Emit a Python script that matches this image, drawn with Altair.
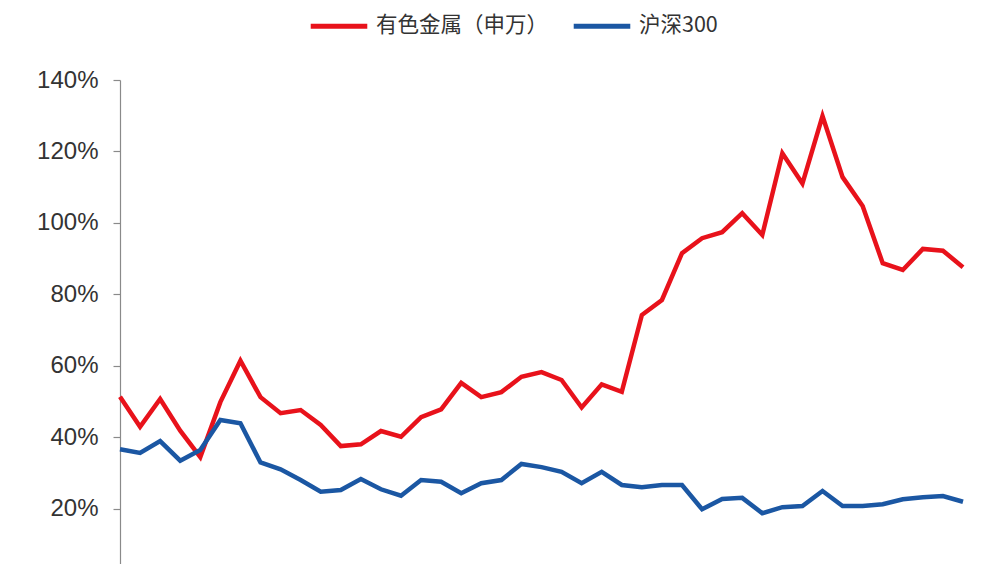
import altair as alt
import pandas as pd

series_names = ["有色金属（申万）", "沪深300"]
colors = ["#e8121b", "#1b57a3"]

metals = [51.3, 42.9, 50.7, 41.8, 34.4, 49.8, 61.4, 51.2, 46.7, 47.6, 43.4,
          37.5, 38.0, 41.7, 40.1, 45.6, 47.8, 55.2, 51.2, 52.6, 56.9, 58.2,
          56.0, 48.3, 54.8, 52.7, 74.2, 78.4, 91.5, 95.7, 97.4, 102.7, 96.6,
          119.5, 111.0, 129.9, 112.8, 104.7, 88.7, 86.8, 92.7, 92.2, 87.6]
hs300 = [36.6, 35.6, 38.9, 33.4, 36.4, 44.8, 43.9, 32.9, 31.0, 28.0, 24.7,
         25.2, 28.3, 25.4, 23.6, 28.0, 27.5, 24.3, 27.1, 28.0, 32.5, 31.6,
         30.3, 27.1, 30.3, 26.6, 26.0, 26.6, 26.6, 19.8, 22.7, 23.0, 18.7,
         20.4, 20.7, 24.9, 20.7, 20.7, 21.2, 22.6, 23.2, 23.5, 21.9]

rows = []
for i, v in enumerate(metals):
    rows.append({"i": i, "v": v / 100, "s": series_names[0]})
for i, v in enumerate(hs300):
    rows.append({"i": i, "v": v / 100, "s": series_names[1]})
df = pd.DataFrame(rows)

chart = alt.Chart(df).mark_line(strokeWidth=4.5, strokeJoin="miter").encode(
    x=alt.X("i:Q", axis=None, scale=alt.Scale(domain=[0, len(metals) - 1], nice=False, zero=False)),
    y=alt.Y("v:Q", title=None,
            scale=alt.Scale(domain=[0, 1.4], range=[500, 0], nice=False),
            axis=alt.Axis(format=".0%", values=[0, 0.2, 0.4, 0.6, 0.8, 1.0, 1.2, 1.4],
                          grid=False, domainColor="#8a8a8a", tickColor="#8a8a8a",
                          tickSize=7, labelPadding=15, labelFontSize=24,
                          labelFont="Liberation Sans", labelColor="#333333",
                          domainWidth=1.2, tickWidth=1.2)),
    color=alt.Color("s:N", title=None,
                    scale=alt.Scale(domain=series_names, range=colors),
                    legend=alt.Legend(orient="none", direction="horizontal",
                                      legendX=188, legendY=-85,
                                      symbolType="stroke", symbolSize=3200,
                                      symbolStrokeWidth=5, labelFontSize=21.5,
                                      labelFont="Noto Sans CJK SC",
                                      labelColor="#333333", labelOffset=6,
                                      labelLimit=400, columnPadding=14)),
    order="i:Q",
).properties(
    width=843, height=484,
    background="#ffffff",
    autosize=alt.AutoSizeParams(type="none"),
    padding={"left": 112, "top": 72, "right": 29, "bottom": 0},
).configure_view(stroke=None, strokeWidth=0)

chart.save("out.html", embed_options={"renderer": "svg", "actions": False})
